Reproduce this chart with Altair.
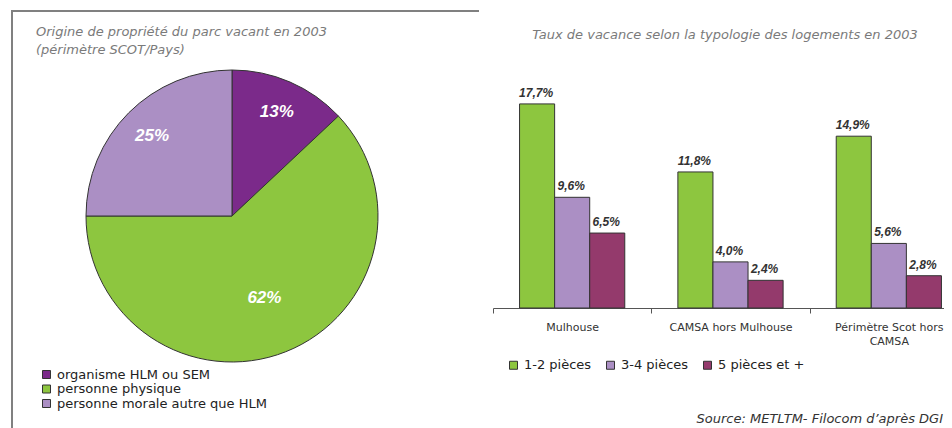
import altair as alt
import pandas as pd

# ---------------- data ----------------
pie_labels = ["organisme HLM ou SEM", "personne physique", "personne morale autre que HLM"]
pie_values = [13, 62, 25]
pie_colors = ["#7B2A8A", "#8DC63F", "#AB8FC4"]

zones = ["Mulhouse", "CAMSA hors Mulhouse", "Périmètre Scot hors CAMSA"]
types = ["1-2 pièces", "3-4 pièces", "5 pièces et +"]
v_12 = [17.7, 11.8, 14.9]
v_34 = [9.6, 4.0, 5.6]
v_5 = [6.5, 2.4, 2.8]
bar_colors = ["#8DC63F", "#AB8FC4", "#943A6C"]

title_left = ["Origine de propriété du parc vacant en 2003", "(périmètre SCOT/Pays)"]
title_right = "Taux de vacance selon la typologie des logements en 2003"
source_text = "Source: METLTM- Filocom d\u2019après DGI"

# ---------------- tables ----------------
pie_df = pd.DataFrame({"cat": pie_labels, "value": pie_values, "ord": list(range(len(pie_labels)))})
rows = []
for t, vals in zip(types, [v_12, v_34, v_5]):
    for z, v in zip(zones, vals):
        rows.append({"zone": z, "type": t, "value": v})
bar_df = pd.DataFrame(rows)
dummy = pd.DataFrame({"a": [0]})

FONT = "DejaVu Sans"
CX, CY, R = 224, 208, 146

# ---------------- pie ----------------
pie = alt.Chart(pie_df).mark_arc(radius=R, stroke="#333333", strokeWidth=1).encode(
    theta=alt.Theta("value:Q", stack=True, scale=alt.Scale(domain=[0, 100])),
    color=alt.Color(
        "cat:N",
        scale=alt.Scale(domain=pie_labels, range=pie_colors),
        legend=alt.Legend(
            title=None, orient="none", legendX=32, legendY=360,
            symbolType="square", symbolSize=64, symbolStrokeColor="#333333",
            symbolStrokeWidth=1, labelFont=FONT, labelFontSize=13, labelColor="#222222",
            labelOffset=4, rowPadding=0.5, padding=0, symbolOpacity=1, labelLimit=400,
        ),
    ),
    order=alt.Order("ord:Q"),
    x=alt.value(CX),
    y=alt.value(CY),
)

pie_txt = (
    alt.Chart(pie_df)
    .transform_window(cum="sum(value)", sort=[alt.SortField("ord")])
    .transform_calculate(mid="datum.cum - datum.value/2", lab="datum.value + '%'")
)
txt_style = dict(font="Liberation Sans", fontSize=17, fontWeight="bold", fontStyle="italic",
                 color="white", align="center", baseline="middle")
pie_t1 = pie_txt.transform_filter("datum.ord != 1").mark_text(radius=113, **txt_style).encode(
    theta=alt.Theta("mid:Q", stack=None), text="lab:N", x=alt.value(CX), y=alt.value(CY))
pie_t2 = pie_txt.transform_filter("datum.ord == 1").mark_text(radius=88, **txt_style).encode(
    theta=alt.Theta("mid:Q", stack=None), text="lab:N", x=alt.value(CX), y=alt.value(CY))

# ---------------- bars ----------------
x_scale = alt.Scale(domain=zones, range=[485, 960], paddingInner=0, paddingOuter=0)
xo_scale = alt.Scale(domain=types, paddingInner=0, paddingOuter=0.757)
y_scale = alt.Scale(domain=[0, 20], range=[300, 69.4])

label_expr = ("datum.label == 'Périmètre Scot hors CAMSA' ? "
              "['Périmètre Scot hors', 'CAMSA'] : datum.label")

bars = alt.Chart(bar_df).mark_bar(stroke="#333333", strokeWidth=1).encode(
    x=alt.X("zone:N", scale=x_scale, sort=zones,
            axis=alt.Axis(title=None, orient="bottom", offset=-120, tickBand="extent",
                          domainColor="#555555", tickColor="#555555", tickSize=5,
                          labelFont=FONT, labelFontSize=11, labelColor="#333333",
                          labelPadding=8, labelAngle=0, labelExpr=label_expr,
                          labelLineHeight=14, grid=False)),
    xOffset=alt.XOffset("type:N", scale=xo_scale, sort=types),
    y=alt.Y("value:Q", scale=y_scale, axis=None),
    color=alt.Color(
        "type:N",
        scale=alt.Scale(domain=types, range=bar_colors),
        legend=alt.Legend(
            title=None, orient="none", legendX=499, legendY=350.5, direction="horizontal",
            symbolType="square", symbolSize=64, symbolStrokeColor="#333333",
            symbolStrokeWidth=1, labelFont=FONT, labelFontSize=13, labelColor="#222222",
            labelOffset=4, columnPadding=12, padding=0, symbolOpacity=1, labelLimit=400,
        ),
    ),
)

bar_txt = alt.Chart(bar_df).transform_calculate(
    lab="replace(format(datum.value, '.1f'), '.', ',') + '%'"
).mark_text(font="Liberation Sans", fontSize=12, fontWeight="bold", fontStyle="italic",
            color="#333333", align="center", baseline="alphabetic", dy=-7, dx=-1).encode(
    x=alt.X("zone:N", scale=x_scale, sort=zones),
    xOffset=alt.XOffset("type:N", scale=xo_scale, sort=types),
    y=alt.Y("value:Q", scale=y_scale),
    text="lab:N",
)

# ---------------- texts & frame ----------------
gray_title = dict(font=FONT, fontSize=13, fontStyle="italic", color="#7a7a7a", baseline="alphabetic")
t_left = alt.Chart(dummy).mark_text(align="left", lineHeight=18, **gray_title).encode(
    x=alt.value(28), y=alt.value(28), text=alt.value(title_left))
t_right = alt.Chart(dummy).mark_text(align="center", **gray_title).encode(
    x=alt.value(717), y=alt.value(31), text=alt.value(title_right))
t_source = alt.Chart(dummy).mark_text(align="right", font=FONT, fontSize=13, fontStyle="italic",
                                      color="#333333", baseline="alphabetic").encode(
    x=alt.value(935), y=alt.value(415), text=alt.value(source_text))

frame_v = alt.Chart(dummy).mark_rule(color="#808080", strokeWidth=2).encode(
    x=alt.value(4), y=alt.value(3), y2=alt.value(420))
frame_h = alt.Chart(dummy).mark_rule(color="#808080", strokeWidth=2).encode(
    x=alt.value(3), x2=alt.value(471), y=alt.value(3))

chart = (
    alt.layer(frame_v, frame_h, pie, pie_t1, pie_t2, bars, bar_txt, t_left, t_right, t_source)
    .resolve_scale(color="independent")
    .properties(width=936, height=420, autosize=alt.AutoSizeParams(type="none"), padding=0,
                background="white")
    .configure_view(stroke=None)
)

chart.save("out.html", embed_options={"renderer": "svg", "actions": False})
